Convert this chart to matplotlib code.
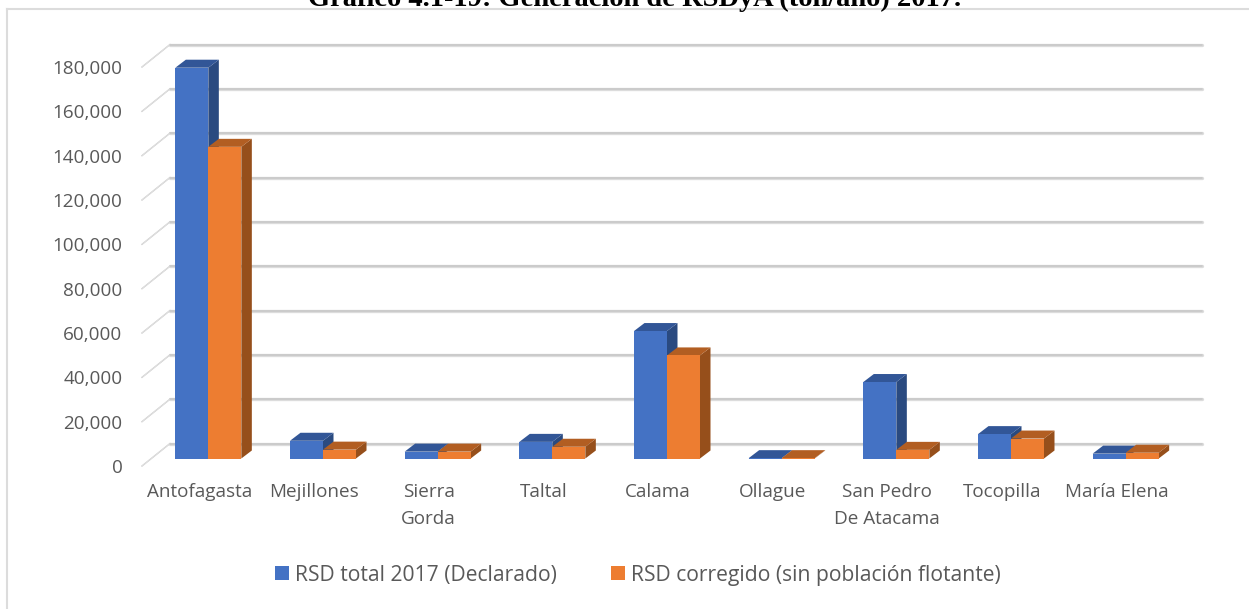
import matplotlib
matplotlib.use('Agg')
import matplotlib.pyplot as plt
from matplotlib.patches import Polygon
from matplotlib.lines import Line2D

comunas = ['Antofagasta', 'Mejillones', 'Sierra\nGorda', 'Taltal', 'Calama', 'Ollague',
           'San Pedro\nDe Atacama', 'Tocopilla', 'María Elena']
rsd_total = [176300, 8000, 3100, 7500, 57500, 150, 34500, 11000, 2200]
rsd_corregido = [140600, 4000, 3100, 5300, 46500, 150, 3900, 9000, 2600]
y_ticks = [0, 20000, 40000, 60000, 80000, 100000, 120000, 140000, 160000, 180000]

serie_1 = 'RSD total 2017 (Declarado)'
serie_2 = 'RSD corregido (sin población flotante)'
titulo = 'Gráfico 4.1-19: Generación de RSDyA (ton/año) 2017.'

TEXT = '#595959'
BLUE, BLUE_TOP, BLUE_SIDE = '#4472C4', '#325697', '#2A4A80'
ORANGE, ORANGE_TOP, ORANGE_SIDE = '#ED7D31', '#B25E22', '#964F1B'

W, H = 1249, 609
fig = plt.figure(figsize=(W / 100, H / 100), dpi=100)
plt.rcParams['font.family'] = ['Open Sans', 'DejaVu Sans']

# axes = front edge of the fake 3d floor
left, right, top, bottom = 142, 1174, 67, 466
ax = fig.add_axes([left / W, 1 - bottom / H, (right - left) / W, (bottom - top) / H])
ax.set_xlim(0, len(comunas))
ax.set_ylim(0, 180000)
for s in ax.spines.values():
    s.set_visible(False)
ax.patch.set_alpha(0)

# pixels to data units
px_x = len(comunas) / (right - left)
px_y = 180000 / (bottom - top)

# grid: back wall line + diagonal to the front
wall_x, wall_y = 28 * px_x, 22.5 * px_y
for v in y_ticks:
    ax.plot([0, wall_x], [v, v + wall_y], color='#c9c9c9', lw=1.0, clip_on=False, zorder=1)
    ax.plot([0, wall_x], [v, v + wall_y], color='#e6e6e6', lw=0.5, clip_on=False, zorder=1.1)
    ax.plot([wall_x, len(comunas) + wall_x], [v + wall_y, v + wall_y], color='#dcdcdc', lw=2.4,
            clip_on=False, zorder=1, solid_capstyle='round')
    ax.plot([wall_x, len(comunas) + wall_x], [v + wall_y - 0.3 * px_y, v + wall_y - 0.3 * px_y],
            color='#c6c6c6', lw=1.1, clip_on=False, zorder=1.1, solid_capstyle='round')

# bars
bar_w = 33 * px_x
bar_dx, bar_dy = 9 * px_x, 7.5 * px_y
depth_x, depth_y = 10.5 * px_x, 8 * px_y


def bar3d(x, v, front, top_col, side_col):
    x0 = x + bar_dx
    x1 = x0 + bar_w
    y0 = bar_dy
    y1 = y0 + v
    ax.add_patch(Polygon([(x1, y0), (x1 + depth_x, y0 + depth_y), (x1 + depth_x, y1 + depth_y), (x1, y1)],
                         closed=True, fc=side_col, ec='none', clip_on=False, zorder=3))
    ax.add_patch(Polygon([(x0, y1), (x0 + depth_x, y1 + depth_y), (x1 + depth_x, y1 + depth_y), (x1, y1)],
                         closed=True, fc=top_col, ec='none', clip_on=False, zorder=3))
    ax.bar(x0, v, width=bar_w, bottom=y0, align='edge', color=front, clip_on=False, zorder=3.5)


gap = (1 - 2 * bar_w) / 2
for i in range(len(comunas)):
    # orange drawn second so that it covers the blue side face
    bar3d(i + gap, rsd_total[i], BLUE, BLUE_TOP, BLUE_SIDE)
    bar3d(i + gap + bar_w, rsd_corregido[i], ORANGE, ORANGE_TOP, ORANGE_SIDE)

ax.set_yticks(y_ticks)
ax.set_yticklabels([f'{v:,}' for v in y_ticks])
ax.set_xticks([i + 0.5 for i in range(len(comunas))])
ax.set_xticklabels(comunas, linespacing=1.68)
ax.tick_params(axis='y', length=0, pad=14, labelsize=13.6, labelcolor=TEXT)
ax.tick_params(axis='x', length=0, pad=12, labelsize=13.6, labelcolor=TEXT)

# legend
h1 = plt.Rectangle((0, 0), 1, 1, fc=BLUE, ec='none')
h2 = plt.Rectangle((0, 0), 1, 1, fc=ORANGE, ec='none')
fig.legend([h1, h2], [serie_1, serie_2], ncol=2, loc='center', bbox_to_anchor=(638 / W, 1 - 575 / H),
           frameon=False, fontsize=15.2, labelcolor=TEXT, handlelength=0.67, handleheight=0.67,
           handletextpad=0.3, columnspacing=2.55)

# frame of the pasted chart: only top and left are visible
fig.add_artist(Line2D([7 / W, 7 / W], [0, 1 - 8.5 / H], color='#dcdcdc', lw=1.5))
fig.add_artist(Line2D([7 / W, 1], [1 - 8.5 / H, 1 - 8.5 / H], color='#dcdcdc', lw=1.5))

# title is cut by the top of the picture
fig.text(635 / W, 1 - 6.5 / H, titulo, ha='center', va='baseline', fontsize=20.5, fontweight='bold',
         family='Liberation Serif', color='#000000')

fig.savefig('out.png', dpi=100)
